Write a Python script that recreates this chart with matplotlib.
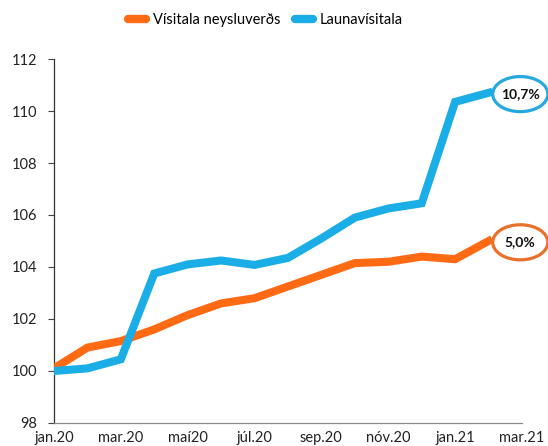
import matplotlib.pyplot as plt
from matplotlib.lines import Line2D
from matplotlib.patches import Ellipse

plt.rcParams["font.family"] = ["Lato", "DejaVu Sans"]

months = [
    "jan.20", "feb.20", "mar.20", "apr.20", "maí20", "jún.20", "júl.20",
    "ágú.20", "sep.20", "okt.20", "nóv.20", "des.20", "jan.21", "feb.21",
    "mar.21",
]
neysluverd = [100.1, 100.9, 101.15, 101.6, 102.15, 102.6, 102.8,
              103.25, 103.7, 104.15, 104.2, 104.4, 104.3, 105.0]
launavisitala = [100.0, 100.1, 100.45, 103.75, 104.1, 104.25, 104.08,
                 104.35, 105.1, 105.9, 106.25, 106.45, 110.35, 110.7]
series_names = ["Vísitala neysluverðs", "Launavísitala"]
end_labels = ["5,0%", "10,7%"]

ORANGE = "#FF6A13"
BLUE = "#1BAEE6"
EDGE_ORANGE = "#E8702A"
EDGE_BLUE = "#25A9DF"

fig = plt.figure(figsize=(5.48, 4.46), dpi=100)
ax = fig.add_axes([0.0985, 0.0516, 0.854, 0.8161])

x = list(range(len(neysluverd)))
ax.plot(x, neysluverd, color=ORANGE, lw=5.8, solid_joinstyle="miter", zorder=3)
ax.plot(x, launavisitala, color=BLUE, lw=5.8, solid_joinstyle="miter", zorder=3)

ax.set_xlim(0, len(months) - 1)
ax.set_ylim(98, 112)
ax.set_yticks(range(98, 113, 2))
ax.set_xticks(range(0, len(months), 2))
ax.set_xticklabels(months[::2])
ax.tick_params(axis="x", length=0, pad=6, labelsize=10.5, colors="#222222")
ax.tick_params(axis="y", length=4, width=0.8, pad=8, labelsize=10.5,
               colors="#222222", color="#444444")

for side in ("top", "right"):
    ax.spines[side].set_visible(False)
ax.spines["left"].set_color("#333333")
ax.spines["bottom"].set_color("#888888")
ax.spines["left"].set_linewidth(0.9)
ax.spines["bottom"].set_linewidth(0.9)

# end-value ellipses
ends = [(neysluverd[-1], end_labels[0], EDGE_ORANGE),
        (launavisitala[-1], end_labels[1], EDGE_BLUE)]
for val, txt, col in ends:
    xc = len(months) - 1 - 0.05
    yc = val - 0.05
    e = Ellipse((xc, yc), width=1.65, height=1.35, facecolor="white",
                edgecolor=col, lw=2.3, zorder=5, clip_on=False)
    ax.add_patch(e)
    ax.text(xc, yc, txt, ha="center", va="center", fontsize=10,
            fontweight="bold", color="#111111", zorder=6, clip_on=False)

handles = [
    Line2D([0], [0], color=c, lw=6, solid_capstyle="round")
    for c in (ORANGE, BLUE)
]
fig.legend(handles, series_names, loc="upper center",
           bbox_to_anchor=(0.485, 1.0), ncol=2, frameon=False, fontsize=10.5,
           handlelength=1.2, columnspacing=1.0, handletextpad=0.5)

fig.savefig("out.png", dpi=100)
